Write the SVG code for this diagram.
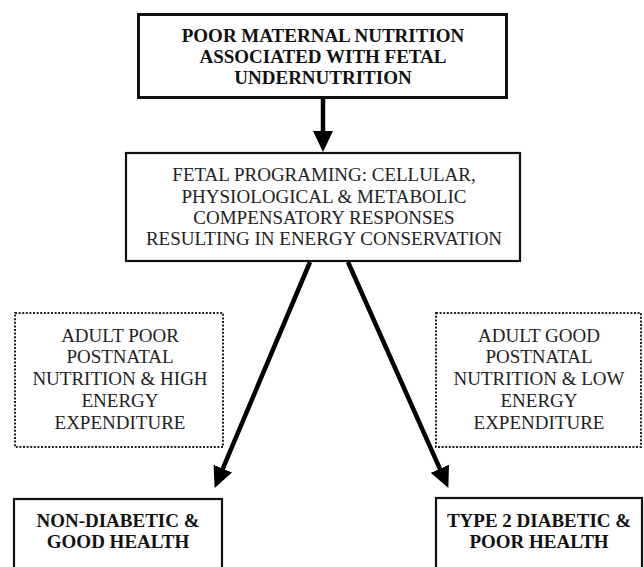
<svg xmlns="http://www.w3.org/2000/svg" width="644" height="567" viewBox="0 0 644 567">
<style>
.bx{fill:#fff;stroke:#111;}
.dot{fill:#fff;stroke:#222;stroke-width:2;stroke-dasharray:2 1.6;}
.tb{font-family:"Liberation Serif","Times New Roman",serif;font-size:19px;font-weight:bold;fill:#111;text-anchor:middle;}
.tr{font-family:"Liberation Serif","Times New Roman",serif;font-size:19px;fill:#222;text-anchor:middle;}
.ar{stroke:#000;stroke-width:4.5;fill:none;marker-end:url(#ah);}
</style>
<defs>
<marker id="ah" markerUnits="userSpaceOnUse" markerWidth="22" markerHeight="22" refX="10" refY="10" orient="auto" viewBox="0 0 22 22">
<path d="M0,0 L21,10 L0,20 z" fill="#000"/>
</marker>
</defs>
<rect width="644" height="567" fill="#fff"/>
<g id="connectors">
<line class="ar" x1="323" y1="99" x2="323" y2="141"/>
<line class="ar" x1="310" y1="262" x2="218.9" y2="477.8"/>
<line class="ar" x1="348" y1="262" x2="443.9" y2="477.9"/>
</g>
<g id="n1">
<rect class="bx" x="138.5" y="14.5" width="368" height="83" stroke-width="3"/>
<text class="tb" x="323" y="42">POOR MATERNAL NUTRITION</text>
<text class="tb" x="323" y="63">ASSOCIATED WITH FETAL</text>
<text class="tb" x="323" y="84">UNDERNUTRITION</text>
</g>
<g id="n2">
<rect class="bx" x="126" y="153" width="394" height="108" stroke-width="2.2"/>
<text class="tr" x="324" y="181">FETAL PROGRAMING: CELLULAR,</text>
<text class="tr" x="324" y="203">PHYSIOLOGICAL &amp; METABOLIC</text>
<text class="tr" x="324" y="224">COMPENSATORY RESPONSES</text>
<text class="tr" x="324" y="245">RESULTING IN ENERGY CONSERVATION</text>
</g>
<g id="n3">
<rect class="dot" x="15" y="313" width="208" height="134"/>
<text class="tr" x="120" y="342">ADULT POOR</text>
<text class="tr" x="120" y="363">POSTNATAL</text>
<text class="tr" x="120" y="385">NUTRITION &amp; HIGH</text>
<text class="tr" x="120" y="407">ENERGY</text>
<text class="tr" x="120" y="429">EXPENDITURE</text>
</g>
<g id="n4">
<rect class="dot" x="436" y="313" width="205" height="134"/>
<text class="tr" x="539" y="342">ADULT GOOD</text>
<text class="tr" x="539" y="363">POSTNATAL</text>
<text class="tr" x="539" y="385">NUTRITION &amp; LOW</text>
<text class="tr" x="539" y="407">ENERGY</text>
<text class="tr" x="539" y="429">EXPENDITURE</text>
</g>
<g id="n5">
<rect class="bx" x="14" y="499" width="208" height="80" stroke-width="2.2"/>
<text class="tb" x="118" y="527">NON-DIABETIC &amp;</text>
<text class="tb" x="118" y="548">GOOD HEALTH</text>
</g>
<g id="n6">
<rect class="bx" x="436" y="498" width="206" height="80" stroke-width="2.2"/>
<text class="tb" x="539" y="527">TYPE 2 DIABETIC &amp;</text>
<text class="tb" x="539" y="548">POOR HEALTH</text>
</g>
</svg>
